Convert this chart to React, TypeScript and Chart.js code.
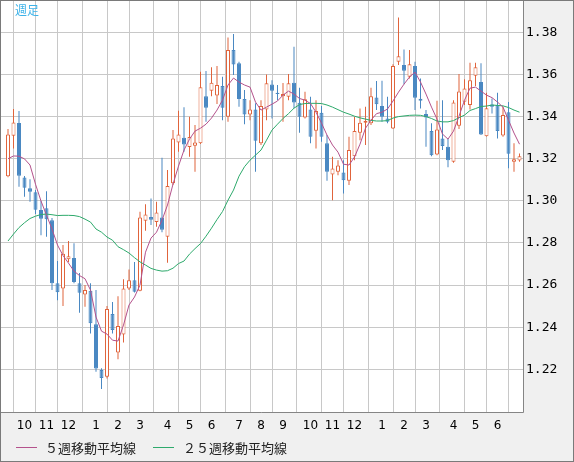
import React, { useEffect, useRef } from "react";
import { Chart, registerables } from "chart.js";

Chart.register(...registerables);

// Weekly candles (oldest -> newest)
const openP = [
  1.3117, 1.3309, 1.3369, 1.3111, 1.306, 1.3041, 1.2956, 1.2965, 1.2908, 1.2609,
  1.2584, 1.2722, 1.2728, 1.2609, 1.2555, 1.2573, 1.2414, 1.2196, 1.2164, 1.2462,
  1.228, 1.2365, 1.2584, 1.2623, 1.2573, 1.2905, 1.2923, 1.2899, 1.2921, 1.2829,
  1.3083, 1.3277, 1.3299, 1.3255, 1.3261, 1.3273, 1.3497, 1.3523, 1.35, 1.3545,
  1.3399, 1.3716, 1.3653, 1.3483, 1.341, 1.3434, 1.3273, 1.3434, 1.3553, 1.3513,
  1.3497, 1.3494, 1.3561, 1.3466, 1.3396, 1.3434, 1.3333, 1.3418, 1.3273, 1.3125,
  1.3138, 1.3135, 1.3095, 1.3212, 1.3323, 1.3371, 1.3368, 1.3491, 1.345, 1.3391,
  1.3344, 1.366, 1.3645, 1.3589, 1.364, 1.3485, 1.3412, 1.3331, 1.322, 1.3296,
  1.3257, 1.3185, 1.3357, 1.347, 1.3455, 1.3594, 1.3564, 1.3307, 1.3458, 1.3455,
  1.331, 1.3421, 1.3186, 1.3191,
];
const highP = [
  1.3341, 1.3436, 1.3426, 1.3118, 1.3103, 1.3051, 1.2999, 1.3046, 1.2918, 1.2714,
  1.279, 1.2809, 1.2798, 1.2657, 1.26, 1.2608, 1.2576, 1.2205, 1.25, 1.252,
  1.2547, 1.2628, 1.2674, 1.2709, 1.2948, 1.2984, 1.3011, 1.2995, 1.3204, 1.3146,
  1.3336, 1.3428, 1.3444, 1.3399, 1.336, 1.3613, 1.3616, 1.3634, 1.364, 1.3589,
  1.3776, 1.3792, 1.366, 1.3526, 1.3478, 1.3463, 1.3478, 1.36, 1.3573, 1.355,
  1.3559, 1.3602, 1.3732, 1.3537, 1.3518, 1.3494, 1.3478, 1.345, 1.3312, 1.3209,
  1.3193, 1.3193, 1.3304, 1.3399, 1.3439, 1.3447, 1.3537, 1.3569, 1.357, 1.3494,
  1.3649, 1.3871, 1.3719, 1.3716, 1.366, 1.3581, 1.3431, 1.3368, 1.3475, 1.3478,
  1.3296, 1.3478, 1.3602, 1.3577, 1.3656, 1.3656, 1.3653, 1.3513, 1.3486, 1.3513,
  1.3447, 1.3469, 1.3273, 1.3225,
];
const lowP = [
  1.3112, 1.3249, 1.3067, 1.3019, 1.2995, 1.2937, 1.2837, 1.2829, 1.2576, 1.2528,
  1.25, 1.2709, 1.2609, 1.2468, 1.2497, 1.237, 1.2188, 1.2106, 1.2156, 1.237,
  1.2247, 1.2327, 1.2576, 1.2565, 1.2571, 1.2858, 1.2885, 1.2877, 1.2851, 1.2706,
  1.3075, 1.3233, 1.3233, 1.3209, 1.3138, 1.327, 1.3375, 1.3497, 1.346, 1.3383,
  1.3375, 1.3597, 1.3447, 1.3364, 1.3383, 1.3138, 1.3265, 1.3383, 1.3391, 1.3478,
  1.3375, 1.3478, 1.344, 1.3323, 1.3391, 1.3273, 1.3249, 1.328, 1.3095, 1.3003,
  1.3122, 1.3035, 1.3075, 1.3193, 1.3288, 1.3265, 1.336, 1.3431, 1.3375, 1.3368,
  1.3341, 1.3645, 1.3554, 1.3581, 1.3431, 1.3439, 1.3257, 1.3212, 1.3217, 1.3241,
  1.3159, 1.3181, 1.3341, 1.3455, 1.3434, 1.3545, 1.3312, 1.3305, 1.3415, 1.3296,
  1.3304, 1.3155, 1.3138, 1.3185,
];
const closeP = [
  1.3315, 1.3372, 1.3119, 1.3062, 1.3043, 1.2957, 1.2915, 1.2913, 1.2608, 1.2566,
  1.2749, 1.2737, 1.2615, 1.2563, 1.2576, 1.2418, 1.2204, 1.2159, 1.2486, 1.2386,
  1.2405, 1.2584, 1.2623, 1.2568, 1.2921, 1.2935, 1.291, 1.2945, 1.2862, 1.307,
  1.3296, 1.3315, 1.3268, 1.3303, 1.3277, 1.3539, 1.3442, 1.3561, 1.355, 1.3442,
  1.3716, 1.3648, 1.3483, 1.341, 1.3434, 1.3285, 1.345, 1.3558, 1.3523, 1.3507,
  1.3507, 1.3558, 1.3467, 1.3399, 1.3482, 1.3304, 1.3426, 1.3304, 1.3138, 1.3154,
  1.3168, 1.3098, 1.3241, 1.3331, 1.3371, 1.3379, 1.3497, 1.3459, 1.3399, 1.3375,
  1.364, 1.3687, 1.3618, 1.3649, 1.3489, 1.3475, 1.3396, 1.3217, 1.3339, 1.326,
  1.3193, 1.3467, 1.3519, 1.3534, 1.3573, 1.3634, 1.3315, 1.344, 1.3447, 1.3331,
  1.3407, 1.3224, 1.3198, 1.3212,
];
// 5-week moving average
const ma5 = [
  1.32, 1.3213, 1.3212, 1.3199, 1.317, 1.3079, 1.2999, 1.2932, 1.2866, 1.279,
  1.274, 1.2704, 1.2666, 1.2645, 1.263, 1.2576, 1.2448, 1.2381, 1.2367, 1.2338,
  1.2334, 1.241, 1.2505, 1.2543, 1.26, 1.2756, 1.2823, 1.2851, 1.2908, 1.298,
  1.3079, 1.3165, 1.3241, 1.3293, 1.3331, 1.3345, 1.3364, 1.3393, 1.3431, 1.3478,
  1.355, 1.3583, 1.3564, 1.355, 1.354, 1.3469, 1.3431, 1.3445, 1.3459, 1.3474,
  1.3502, 1.3521, 1.3507, 1.3486, 1.3478, 1.3462, 1.3421, 1.3369, 1.3312, 1.3265,
  1.3231, 1.3174, 1.317, 1.3208, 1.3269, 1.3345, 1.3383, 1.3414, 1.3421, 1.3436,
  1.3474, 1.3516, 1.3554, 1.3588, 1.3611, 1.3564, 1.3507, 1.3445, 1.3388, 1.3317,
  1.3293, 1.3331, 1.3402, 1.3478, 1.3535, 1.354, 1.3521, 1.3502, 1.349, 1.3469,
  1.3445, 1.3383, 1.3322, 1.3269,
];
// 25-week moving average
const ma25 = [
  1.2809, 1.2842, 1.2873, 1.2896, 1.2916, 1.2927, 1.2935, 1.2937, 1.2934, 1.293,
  1.2931, 1.2931, 1.293, 1.2925, 1.2913, 1.2899, 1.2866, 1.2851, 1.2828, 1.2813,
  1.2782, 1.2768, 1.2752, 1.273, 1.271, 1.2695, 1.2679, 1.2671, 1.2666, 1.2668,
  1.268, 1.2702, 1.2714, 1.2747, 1.2773, 1.2797, 1.2832, 1.287, 1.2911, 1.2949,
  1.3003, 1.3051, 1.3117, 1.3162, 1.3193, 1.3217, 1.3241, 1.3288, 1.3336, 1.3364,
  1.3391, 1.3414, 1.344, 1.3457, 1.3462, 1.3463, 1.3463, 1.3462, 1.3455, 1.3445,
  1.3433, 1.3421, 1.3412, 1.3402, 1.3394, 1.3388, 1.3382, 1.3379, 1.3379, 1.3381,
  1.3393, 1.34, 1.3403, 1.3406, 1.3407, 1.3406, 1.34, 1.3391, 1.3379, 1.3375,
  1.3375, 1.3381, 1.3395, 1.3407, 1.3429, 1.3438, 1.3448, 1.345, 1.3455, 1.3453,
  1.3451, 1.3443, 1.3431, 1.3421,
];
// Month boundaries (week index) and labels
const monthTickWeeks = [3, 7, 11, 16, 20, 24, 29, 33, 37, 42, 46, 50, 55, 59, 63, 68, 72, 76, 81, 85, 89];
const monthTickLabels = ["10", "11", "12", "1", "2", "3", "4", "5", "6", "7", "8", "9", "10", "11", "12", "1", "2", "3", "4", "5", "6"];
const priceTicks = [1.22, 1.24, 1.26, 1.28, 1.3, 1.32, 1.34, 1.36, 1.38];

const UP = "#e0643c";
const DOWN = "#4a88c2";
const MA5_COLOR = "#b4528c";
const MA25_COLOR = "#2eaa6c";

const frame = {
  id: "frame",
  beforeDraw(chart: any) {
    const { ctx, chartArea: a, width, height } = chart;
    ctx.save();
    ctx.fillStyle = "#f0f0f0";
    ctx.fillRect(0, 0, width, height);
    ctx.fillStyle = "#ffffff";
    ctx.fillRect(a.left, a.top, a.right - a.left, a.bottom - a.top);
    ctx.restore();
  },
  afterDraw(chart: any) {
    const { ctx, chartArea: a, width, height } = chart;
    ctx.save();
    ctx.strokeStyle = "#858585";
    ctx.lineWidth = 1;
    ctx.beginPath();
    ctx.moveTo(Math.round(a.right) + 0.5, 0);
    ctx.lineTo(Math.round(a.right) + 0.5, Math.round(a.bottom) + 0.5);
    ctx.lineTo(0, Math.round(a.bottom) + 0.5);
    ctx.stroke();
    ctx.strokeStyle = "#7a7a7a";
    ctx.strokeRect(0.5, 0.5, width - 1, height - 1);
    ctx.restore();
  },
};

function CandleChart() {
  const ref = useRef<HTMLCanvasElement | null>(null);
  useEffect(() => {
    if (!ref.current) return;
    const isUp = (i: number) => closeP[i] >= openP[i];
    const chart = new Chart(ref.current, {
      type: "bar",
      data: {
        datasets: [
          {
            type: "line",
            label: "25",
            data: ma25.map((v, i) => ({ x: i, y: v })),
            borderColor: MA25_COLOR,
            borderWidth: 1,
            pointRadius: 0,
            tension: 0,
            order: 1,
          } as any,
          {
            type: "line",
            label: "5",
            data: ma5.map((v, i) => ({ x: i, y: v })),
            borderColor: MA5_COLOR,
            borderWidth: 1,
            pointRadius: 0,
            tension: 0,
            order: 0,
          } as any,
          {
            type: "bar",
            label: "body",
            data: openP.map((o, i) => ({ x: i, y: [o, closeP[i]] })),
            backgroundColor: (c: any) => (isUp(c.dataIndex) ? "#ffffff" : DOWN),
            borderColor: (c: any) => (isUp(c.dataIndex) ? UP : DOWN),
            borderWidth: 1,
            borderSkipped: false,
            barThickness: 4,
            grouped: false,
            inflateAmount: 0,
            order: 2,
          } as any,
          {
            type: "bar",
            label: "wick",
            data: lowP.map((l, i) => ({ x: i, y: [l, highP[i]] })),
            backgroundColor: (c: any) => (isUp(c.dataIndex) ? UP : DOWN),
            borderWidth: 0,
            barThickness: 1,
            grouped: false,
            inflateAmount: 0,
            order: 3,
          } as any,
        ],
      },
      options: {
        responsive: false,
        maintainAspectRatio: false,
        animation: false,
        devicePixelRatio: 1,
        layout: { padding: { left: 1, top: 1, right: 0, bottom: 0 } },
        plugins: { legend: { display: false }, tooltip: { enabled: false } },
        scales: {
          x: {
            type: "linear",
            min: -7 / 5.5,
            max: 515 / 5.5,
            offset: false,
            afterBuildTicks: (s: any) => {
              s.ticks = monthTickWeeks.map((v) => ({ value: v }));
            },
            afterFit: (s: any) => {
              s.height = 50;
              s.paddingLeft = 0;
              s.paddingRight = 0;
              s.paddingTop = 0;
              s.paddingBottom = 0;
            },
            grid: { color: "#c8c8c8", lineWidth: 1, drawTicks: false },
            border: { display: false },
            ticks: {
              autoSkip: false,
              maxRotation: 0,
              padding: 7,
              color: "#000",
              font: { family: "DejaVu Sans", size: 12 },
              callback: (v: any) => {
                const k = monthTickWeeks.indexOf(Number(v));
                return k >= 0 ? monthTickLabels[k] : "";
              },
            },
          },
          y: {
            type: "linear",
            position: "right",
            min: 1.1997,
            max: 1.3949,
            afterBuildTicks: (s: any) => {
              s.ticks = priceTicks.map((v) => ({ value: v }));
            },
            afterFit: (s: any) => {
              s.width = 51;
              s.paddingLeft = 0;
              s.paddingRight = 0;
              s.paddingTop = 0;
              s.paddingBottom = 0;
            },
            grid: { color: "#c8c8c8", lineWidth: 1, drawTicks: false },
            border: { display: false },
            ticks: {
              padding: 3,
              color: "#000",
              font: { family: "DejaVu Sans Mono", size: 13 },
              callback: (v: any) => Number(v).toFixed(2),
            },
          },
        },
      } as any,
      plugins: [frame],
    });
    return () => chart.destroy();
  }, []);
  return <canvas ref={ref} width={574} height={462} style={{ display: "block", width: 574, height: 462 }} />;
}

export default function App() {
  const legendText: React.CSSProperties = {
    position: "absolute",
    top: 440,
    fontFamily: '"Noto Sans CJK JP", sans-serif',
    fontSize: 13,
    lineHeight: "16px",
    color: "#222",
    whiteSpace: "nowrap",
  };
  return (
    <div style={{ position: "fixed", left: 0, top: 0, width: 574, height: 462, overflow: "hidden" }}>
      <CandleChart />
      <div
        style={{
          position: "absolute",
          left: 15,
          top: 2,
          fontFamily: '"Noto Sans CJK JP", sans-serif',
          fontSize: 12,
          lineHeight: "16px",
          color: "#3cb2e8",
        }}
      >
        週足
      </div>
      <div style={{ position: "absolute", left: 16, top: 447, width: 21, height: 1, background: MA5_COLOR }} />
      <div style={{ ...legendText, left: 45 }}>５週移動平均線</div>
      <div style={{ position: "absolute", left: 153, top: 447, width: 21, height: 1, background: MA25_COLOR }} />
      <div style={{ ...legendText, left: 183 }}>２５週移動平均線</div>
    </div>
  );
}
